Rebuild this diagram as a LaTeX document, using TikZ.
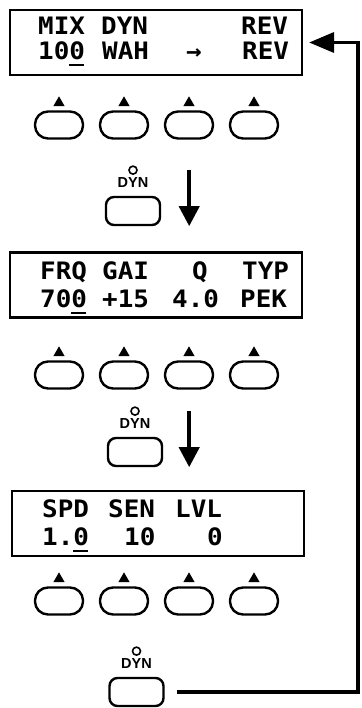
\documentclass[tikz,border=0pt]{standalone}
\usepackage{fontspec}
\newfontfamily\lcdfont{DejaVu Sans Mono}
\newfontfamily\keyfont{Liberation Sans}
\usetikzlibrary{arrows.meta,positioning,shapes.geometric}

% LCD characters are a bit wider than the mono font
\newcommand{\lcd}[1]{\scalebox{1.08}[1]{#1}}
\newcommand{\curs}[1]{\rlap{\rule[-6.5pt]{0.55em}{2pt}}#1}

\begin{document}
\begin{tikzpicture}[x=1pt, y=-1pt,
    lcd/.style={draw, line width=2.2pt, minimum width=292pt, minimum height=65pt, inner sep=0pt},
    lcdtxt/.style={anchor=base west, inner sep=0pt,
      font=\lcdfont\bfseries\fontsize{24}{24}\selectfont},
    softkey/.style={draw, line width=2.4pt, rounded corners=13pt,
      minimum width=48pt, minimum height=27pt, inner sep=0pt},
    pointer/.style={fill, regular polygon, regular polygon sides=3,
      minimum size=13pt, inner sep=0pt},
    dynkey/.style={draw, line width=2.4pt, rounded corners=8pt,
      minimum width=54pt, minimum height=28pt, inner sep=0pt},
    keylabel/.style={font=\keyfont\bfseries\fontsize{14.5}{14.5}\selectfont, inner sep=0pt},
    led/.style={circle, draw, line width=1.6pt, minimum size=8pt, inner sep=0pt},
    flow/.style={line width=4pt, -{Triangle[length=20pt,width=20pt]}},
    back/.style={line width=3.5pt, -{Triangle[length=25pt,width=20pt]}}
  ]
  \useasboundingbox (0,0) rectangle (361,708);

  % first page: mix
  \node[lcd] (disp1) at (156,42.5) {};
  \node[lcdtxt] (mix) at (38,35) {\lcd{MIX}};
  \node[lcdtxt] (dyn) at (101,35) {\lcd{DYN}};
  \node[lcdtxt] (rev) at (241,35) {\lcd{REV}};
  \node[lcdtxt] (mixval) at (38,60) {\lcd{10\curs{0}}};
  \node[lcdtxt] (wah) at (102,60) {\lcd{WAH}};
  \node[lcdtxt] (to) at (186,60) {\lcd{→}};
  \node[lcdtxt] (revval) at (242,60) {\lcd{REV}};

  \node[softkey] (k11) at (59,125) {};
  \node[softkey] (k12) at (124,125) {};
  \node[softkey] (k13) at (189,125) {};
  \node[softkey] (k14) at (254,125) {};
  \node[pointer, above=4pt of k11] (p11) {};
  \node[pointer, above=4pt of k12] (p12) {};
  \node[pointer, above=4pt of k13] (p13) {};
  \node[pointer, above=4pt of k14] (p14) {};

  \node[dynkey] (key1) at (133,211) {};
  \node[keylabel, above=8pt of key1] (lab1) {DYN};
  \node[led, above=2.5pt of lab1] (led1) {};
  \coordinate (a1) at ([xshift=28pt]key1.east);

  % second page: filter
  \node[lcd] (disp2) at (156,285) {};
  \node[lcdtxt] (frq) at (40,279) {\lcd{FRQ}};
  \node[lcdtxt] (gai) at (102,279) {\lcd{GAI}};
  \node[lcdtxt] (q) at (192,279) {\lcd{Q}};
  \node[lcdtxt] (typ) at (242,279) {\lcd{TYP}};
  \node[lcdtxt] (frqval) at (40,307) {\lcd{70\curs{0}}};
  \node[lcdtxt] (gaival) at (102,307) {\lcd{+15}};
  \node[lcdtxt] (qval) at (172,307) {\lcd{4.0}};
  \node[lcdtxt] (typval) at (240,307) {\lcd{PEK}};

  \node[softkey] (k21) at (59,375) {};
  \node[softkey] (k22) at (124,375) {};
  \node[softkey] (k23) at (189,375) {};
  \node[softkey] (k24) at (254,375) {};
  \node[pointer, above=4pt of k21] (p21) {};
  \node[pointer, above=4pt of k22] (p22) {};
  \node[pointer, above=4pt of k23] (p23) {};
  \node[pointer, above=4pt of k24] (p24) {};

  \node[dynkey] (key2) at (135,452) {};
  \node[keylabel, above=8pt of key2] (lab2) {DYN};
  \node[led, above=2.5pt of lab2] (led2) {};
  \coordinate (a2) at ([xshift=26pt]key2.east);

  % third page: wah
  \node[lcd] (disp3) at (158,523.5) {};
  \node[lcdtxt] (spd) at (42,517) {\lcd{SPD}};
  \node[lcdtxt] (sen) at (108,517) {\lcd{SEN}};
  \node[lcdtxt] (lvl) at (175,517) {\lcd{LVL}};
  \node[lcdtxt] (spdval) at (42,545) {\lcd{1.\curs{0}}};
  \node[lcdtxt] (senval) at (124,545) {\lcd{10}};
  \node[lcdtxt] (lvlval) at (207,545) {\lcd{0}};

  \node[softkey] (k31) at (59,601) {};
  \node[softkey] (k32) at (124,601) {};
  \node[softkey] (k33) at (189,601) {};
  \node[softkey] (k34) at (254,601) {};
  \node[pointer, above=4pt of k31] (p31) {};
  \node[pointer, above=4pt of k32] (p32) {};
  \node[pointer, above=4pt of k33] (p33) {};
  \node[pointer, above=4pt of k34] (p34) {};

  \node[dynkey] (key3) at (136.5,692) {};
  \node[keylabel, above=8pt of key3] (lab3) {DYN};
  \node[led, above=2.5pt of lab3] (led3) {};

  \draw[flow] (a1 |- led1) -- (a1 |- key1.south);
  \draw[flow] (a2 |- led2) -- (a2 |- key2.south);
  \draw[back] ([xshift=12pt]key3.east) -| ([xshift=55pt]disp1.east) -- ([xshift=6pt]disp1.east);
\end{tikzpicture}
\end{document}
